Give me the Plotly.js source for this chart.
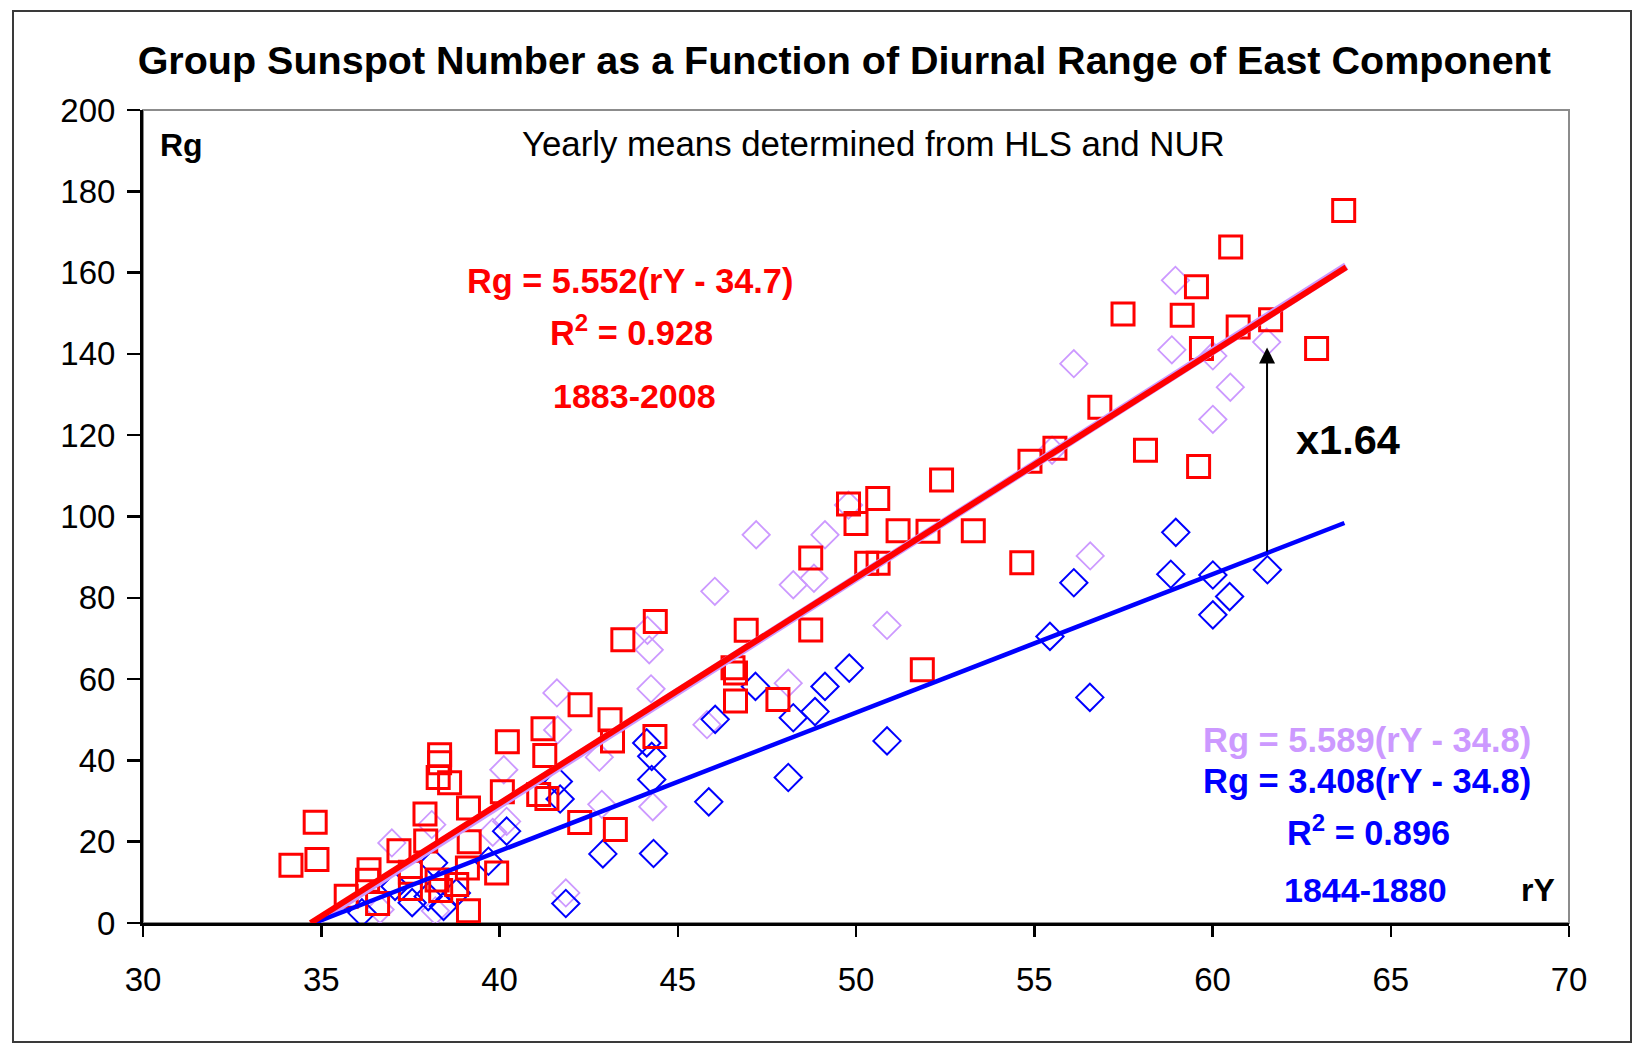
<!DOCTYPE html>
<html>
<head>
<meta charset="utf-8">
<script src="https://cdn.plot.ly/plotly-3.0.1.min.js"></script>
<style>
  html, body { margin: 0; padding: 0; background: #ffffff; }
  #wrap { position: relative; width: 1633px; height: 1044px; }
  #chart { position: absolute; left: 0; top: 0; width: 1633px; height: 1044px; }
  #frame { position: absolute; left: 12px; top: 10px; width: 1616px; height: 1029px;
           border: 2px solid #3a3a3a; pointer-events: none; }
</style>
</head>
<body>
<div id="wrap"><div id="chart"></div><div id="frame"></div></div>
<script>
// ---- Data ----
// Red squares: 1883-2008
const redX = [63.68,60.51,59.55,57.49,59.15,60.72,61.63,59.69,62.92,56.84,55.58,54.88,58.12,59.61,
  52.40,50.61,49.79,50.00,51.18,52.02,53.29,48.73,50.30,50.62,54.65,48.73,51.86,47.81,46.92,44.37,
  43.46,46.55,46.62,46.62,42.26,43.10,43.17,44.36,41.22,40.22,41.27,38.32,38.32,38.28,38.60,40.08,
  41.10,41.33,39.13,37.91,42.25,43.25,34.83,34.88,34.15,37.18,37.93,39.15,39.10,39.92,39.13,35.70,
  36.34,36.30,36.58,37.50,37.50,38.25,38.35,38.80];
const redY = [175.3,166.3,156.5,149.8,149.5,146.6,148.4,141.3,141.3,126.9,116.8,113.6,116.3,112.3,
  109.0,104.4,103.1,98.3,96.5,96.4,96.5,89.8,88.5,88.5,88.6,72.1,62.3,55.0,72.0,74.2,
  69.7,62.8,61.5,54.6,53.7,50.0,44.8,45.9,47.8,44.6,41.2,41.4,39.4,35.8,34.5,32.3,
  31.6,30.6,28.3,26.8,24.7,23.0,24.8,15.6,14.2,17.8,20.2,20.0,13.5,12.3,3.0,6.6,
  13.1,10.5,4.8,8.5,12.5,10.6,8.0,9.5];
// Blue diamonds: 1844-1880
const blueX = [58.97,58.83,60.01,60.48,60.01,61.54,56.11,55.44,56.56,49.81,49.13,48.85,48.24,47.18,
  46.05,50.87,48.10,45.87,44.13,44.27,44.27,44.32,42.90,41.65,41.70,40.20,41.86,39.69,38.15,37.07,
  37.55,38.00,38.43,38.79,36.14];
const blueY = [96.1,85.8,85.6,80.3,75.8,86.9,83.7,70.5,55.5,62.7,58.2,52.0,50.5,58.2,
  50.1,44.8,35.8,29.8,44.3,41.0,35.3,17.1,17.0,34.8,30.5,22.6,4.8,15.2,14.8,9.0,
  5.0,6.5,4.1,7.4,2.5];
// Lavender diamonds
const lavX = [58.96,58.86,60.01,61.52,60.50,60.01,56.11,55.50,56.57,50.87,49.79,49.13,47.20,48.24,
  48.82,48.10,46.04,44.15,44.20,44.25,44.30,45.82,41.61,41.63,42.80,42.87,40.12,40.20,39.81,38.10,
  36.98,41.86,38.20,36.65];
const lavY = [158.1,141.0,139.5,142.9,131.8,123.9,137.6,116.3,90.3,73.2,102.8,95.5,95.5,83.2,
  84.8,59.0,81.6,72.0,67.2,57.6,28.6,48.8,56.6,47.5,40.8,29.2,37.7,25.0,22.3,24.2,
  19.7,7.4,3.0,3.3];
// Fit lines (end points)
const redFitX = [34.7, 63.75];
const redFitY = [0, 161.3];
const lavFitX = [34.8, 63.75];
const lavFitY = [0, 161.6];
const blueFitX = [34.8, 63.7];
const blueFitY = [0, 98.4];
// Ratio arrow (blue line -> red points)
const arrowX = [61.53, 61.53];
const arrowY = [91.0, 141.6];

const xTicks = [30,35,40,45,50,55,60,65,70];
const yTicks = [0,20,40,60,80,100,120,140,160,180,200];

const RED = '#ff0000', BLUE = '#0000ff', LAV = '#cc99ff';
const FONT = 'Liberation Sans, Arial, sans-serif';

const traces = [
  { x: lavX, y: lavY, type: 'scatter', mode: 'markers', hoverinfo: 'skip',
    marker: { symbol: 'diamond-open', size: 21, color: LAV, line: { width: 1.8, color: LAV } } },
  { x: blueX, y: blueY, type: 'scatter', mode: 'markers', hoverinfo: 'skip',
    marker: { symbol: 'diamond-open', size: 21, color: BLUE, line: { width: 2, color: BLUE } } },
  { x: redX, y: redY, type: 'scatter', mode: 'markers', hoverinfo: 'skip',
    marker: { symbol: 'square-open', size: 22, color: RED, line: { width: 3, color: RED } } },
  { x: lavFitX, y: lavFitY, type: 'scatter', mode: 'lines', hoverinfo: 'skip',
    line: { color: LAV, width: 8 } },
  { x: blueFitX, y: blueFitY, type: 'scatter', mode: 'lines', hoverinfo: 'skip',
    line: { color: BLUE, width: 4.5 } },
  { x: redFitX, y: redFitY, type: 'scatter', mode: 'lines', hoverinfo: 'skip',
    line: { color: RED, width: 6 } }
];

const ann = (x, y, text, color, size, bold, extra) => Object.assign({
  x: x, y: y, xref: 'x', yref: 'y', showarrow: false,
  text: bold ? '<b>' + text + '</b>' : text,
  font: { family: FONT, size: size, color: color }
}, extra || {});

const annotations = [
  ann(30.43, 191.5, 'Rg', '#000', 32, true, { xanchor: 'left' }),
  ann(50.49, 191.8, 'Yearly means determined from HLS and NUR', '#000', 34.8, false),
  ann(43.66, 157.9, 'Rg = 5.552(rY - 34.7)', RED, 34.3, true),
  ann(43.70, 145.8, 'R<sup>2</sup> = 0.928', RED, 34.3, true),
  ann(43.79, 129.6, '1883-2008', RED, 34, true),
  ann(63.79, 118.9, 'x1.64', '#000', 41.5, true),
  ann(64.34, 45.0, 'Rg = 5.589(rY - 34.8)', LAV, 34.5, true),
  ann(64.34, 35.0, 'Rg = 3.408(rY - 34.8)', BLUE, 34.5, true),
  ann(64.37, 22.7, 'R<sup>2</sup> = 0.896', BLUE, 34.3, true),
  ann(64.30, 8.1, '1844-1880', BLUE, 34, true),
  ann(69.12, 8.1, 'rY', '#000', 32, true),
  { x: arrowX[1], y: arrowY[1], ax: arrowX[0], ay: arrowY[0], xref: 'x', yref: 'y',
    axref: 'x', ayref: 'y', showarrow: true, text: '', arrowhead: 2, arrowsize: 1.6,
    arrowwidth: 2, arrowcolor: '#000', standoff: 0, startstandoff: 0 }
];

const layout = {
  width: 1633, height: 1044,
  paper_bgcolor: '#ffffff', plot_bgcolor: '#ffffff',
  margin: { l: 143, r: 63.5, t: 109.5, b: 120.5, pad: 0 },
  showlegend: false,
  title: { text: '<b>Group Sunspot Number as a Function of Diurnal Range of East Component</b>',
    font: { family: FONT, size: 39.5, color: '#000' },
    x: 0.517, xanchor: 'center', xref: 'container', y: 0.9425, yanchor: 'middle', yref: 'container' },
  xaxis: {
    range: [30, 70], tickvals: xTicks, ticktext: xTicks.map(String),
    showgrid: false, zeroline: false, showline: true, linecolor: '#000', linewidth: 3,
    ticks: 'outside', ticklen: 11, tickwidth: 2.5, tickcolor: '#000',
    tickfont: { family: FONT, size: 33, color: '#000' }, ticklabelstandoff: 14
  },
  yaxis: {
    range: [0, 200], tickvals: yTicks, ticktext: yTicks.map(String),
    showgrid: false, zeroline: false, showline: true, linecolor: '#000', linewidth: 3,
    ticks: 'outside', ticklen: 13, tickwidth: 2.5, tickcolor: '#000',
    tickfont: { family: FONT, size: 33, color: '#000' }, ticklabelstandoff: 5
  },
  shapes: [
    { type: 'rect', xref: 'paper', yref: 'paper', x0: 0, x1: 1, y0: 0, y1: 1,
      line: { color: '#8c8c8c', width: 2 }, layer: 'below' }
  ],
  annotations: annotations
};

Plotly.newPlot('chart', traces, layout, { displayModeBar: false, staticPlot: true });
</script>
</body>
</html>
